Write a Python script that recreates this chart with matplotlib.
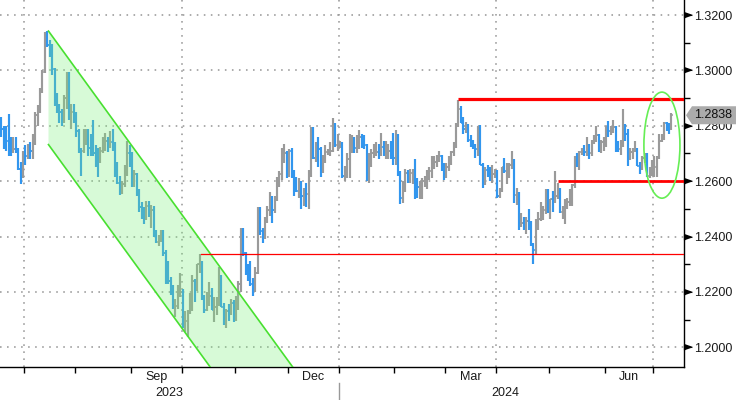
import numpy as np
import pandas as pd
import matplotlib
matplotlib.use("Agg")
import matplotlib.pyplot as plt
from matplotlib.patches import Polygon, Ellipse
import matplotlib.transforms as mtransforms

plt.rcParams['font.family'] = ['Liberation Sans', 'DejaVu Sans']

# ---------------- data: daily OHLC (Jun 19 2023 .. Jul 10 2024, business days) ----------------
opens = [
    1.2820,1.2790,1.2765,1.2745,1.2740,1.2710,1.2715,1.2710,1.2645,1.2615,  # Jun 23
    1.2700,1.2690,1.2715,1.2710,1.2750,1.2840,1.2860,1.2930,1.2995,1.3135,1.3090,1.3075,1.3005,1.2875,1.2860,1.2850,1.2820,1.2900,1.2940,1.2850,1.2850,  # Jul 23
    1.2835,1.2780,1.2715,1.2710,1.2750,1.2785,1.2720,1.2705,1.2700,1.2690,1.2685,1.2710,1.2730,1.2745,1.2735,1.2740,1.2725,1.2645,1.2595,1.2580,1.2590,1.2635,1.2700,  # Aug 23
    1.2670,1.2585,1.2625,1.2560,1.2505,1.2470,1.2465,1.2510,1.2490,1.2495,1.2415,1.2380,1.2385,1.2395,1.2340,1.2295,1.2240,1.2220,1.2150,1.2150,1.2195,  # Sep 23
    1.2200,1.2075,1.2095,1.2130,1.2190,1.2240,1.2235,1.2300,1.2305,1.2175,1.2135,1.2180,1.2185,1.2135,1.2145,1.2160,1.2245,1.2145,1.2105,1.2130,1.2125,1.2160,  # Oct 23
    1.2150,1.2165,1.2230,1.2380,1.2340,1.2275,1.2270,1.2230,1.2215,1.2270,1.2500,1.2420,1.2410,1.2460,1.2495,1.2540,1.2495,1.2540,1.2610,1.2625,1.2695,1.2700,  # Nov 23
    1.2625,1.2710,1.2635,1.2595,1.2565,1.2590,1.2545,1.2560,1.2555,1.2625,1.2770,1.2685,1.2725,1.2715,1.2635,1.2685,1.2705,1.2705,1.2710,1.2800,1.2730,  # Dec 23
    1.2730,1.2735,1.2620,1.2620,1.2680,1.2715,1.2745,1.2720,1.2745,1.2760,1.2755,1.2730,1.2630,1.2670,1.2700,1.2700,1.2705,1.2700,1.2725,1.2705,1.2705,1.2710,1.2695,  # Jan 24
    1.2685,1.2745,1.2630,1.2540,1.2570,1.2630,1.2625,1.2630,1.2630,1.2595,1.2580,1.2600,1.2600,1.2600,1.2630,1.2635,1.2650,1.2670,1.2685,1.2690,1.2655,  # Feb 24
    1.2625,1.2650,1.2685,1.2705,1.2725,1.2805,1.2860,1.2810,1.2790,1.2800,1.2750,1.2735,1.2725,1.2715,1.2780,1.2660,1.2595,1.2640,1.2635,1.2625,1.2625,  # Mar 24
    1.2635,1.2545,1.2570,1.2650,1.2635,1.2635,1.2660,1.2670,1.2550,1.2555,1.2450,1.2450,1.2430,1.2455,1.2440,1.2370,1.2350,1.2455,1.2465,1.2495,1.2495,1.2565,  # Apr 24
    1.2490,1.2535,1.2530,1.2545,1.2565,1.2490,1.2490,1.2520,1.2525,1.2560,1.2585,1.2680,1.2670,1.2705,1.2710,1.2705,1.2720,1.2700,1.2740,1.2760,1.2765,1.2710,1.2740,  # May 24
    1.2740,1.2800,1.2780,1.2790,1.2795,1.2725,1.2715,1.2735,1.2795,1.2770,1.2685,1.2705,1.2710,1.2715,1.2655,1.2650,1.2685,1.2690,1.2620,1.2630,  # Jun 24
    1.2645,1.2650,1.2685,1.2745,1.2760,1.2810,1.2805,1.2790,  # Jul 24
]
highs = [
    1.2830,1.2800,1.2800,1.2841,1.2760,1.2760,1.2760,1.2720,1.2670,1.2710,
    1.2730,1.2735,1.2740,1.2770,1.2850,1.2875,1.2935,1.3000,1.3140,1.3144,1.3110,1.3095,1.3010,1.2920,1.2880,1.2860,1.2910,1.2995,1.2995,1.2880,1.2880,
    1.2850,1.2790,1.2720,1.2790,1.2790,1.2790,1.2770,1.2820,1.2730,1.2720,1.2725,1.2760,1.2775,1.2760,1.2780,1.2790,1.2740,1.2670,1.2620,1.2600,1.2660,1.2745,1.2730,
    1.2705,1.2640,1.2630,1.2570,1.2525,1.2505,1.2530,1.2530,1.2515,1.2510,1.2425,1.2405,1.2425,1.2425,1.2350,1.2310,1.2255,1.2225,1.2175,1.2225,1.2270,
    1.2210,1.2130,1.2135,1.2195,1.2260,1.2245,1.2300,1.2337,1.2310,1.2190,1.2200,1.2235,1.2215,1.2180,1.2180,1.2290,1.2260,1.2160,1.2140,1.2155,1.2175,1.2170,
    1.2185,1.2240,1.2430,1.2430,1.2345,1.2300,1.2310,1.2250,1.2290,1.2505,1.2505,1.2430,1.2470,1.2510,1.2560,1.2545,1.2545,1.2615,1.2635,1.2720,1.2733,1.2710,
    1.2715,1.2720,1.2640,1.2615,1.2610,1.2600,1.2575,1.2595,1.2640,1.2795,1.2795,1.2740,1.2760,1.2725,1.2695,1.2730,1.2715,1.2740,1.2827,1.2810,1.2770,
    1.2745,1.2740,1.2655,1.2700,1.2770,1.2765,1.2760,1.2765,1.2785,1.2770,1.2765,1.2735,1.2700,1.2715,1.2735,1.2740,1.2735,1.2775,1.2745,1.2745,1.2735,1.2745,1.2775,
    1.2785,1.2770,1.2635,1.2600,1.2645,1.2640,1.2645,1.2645,1.2680,1.2610,1.2600,1.2610,1.2620,1.2640,1.2650,1.2690,1.2690,1.2695,1.2710,1.2695,1.2665,
    1.2665,1.2690,1.2710,1.2740,1.2810,1.2893,1.2870,1.2830,1.2815,1.2805,1.2765,1.2750,1.2735,1.2800,1.2803,1.2665,1.2650,1.2660,1.2650,1.2660,1.2645,
    1.2640,1.2575,1.2650,1.2685,1.2665,1.2665,1.2709,1.2680,1.2575,1.2560,1.2485,1.2470,1.2470,1.2500,1.2455,1.2375,1.2465,1.2490,1.2525,1.2510,1.2570,1.2570,
    1.2535,1.2565,1.2635,1.2595,1.2575,1.2510,1.2535,1.2540,1.2570,1.2590,1.2690,1.2700,1.2710,1.2720,1.2730,1.2760,1.2735,1.2750,1.2765,1.2800,1.2770,1.2750,1.2760,
    1.2800,1.2818,1.2800,1.2820,1.2800,1.2745,1.2750,1.2860,1.2805,1.2790,1.2720,1.2720,1.2745,1.2720,1.2670,1.2690,1.2700,1.2700,1.2650,1.2675,
    1.2690,1.2690,1.2770,1.2770,1.2815,1.2815,1.2810,1.2845,
]
lows = [
    1.2760,1.2715,1.2710,1.2690,1.2690,1.2700,1.2700,1.2640,1.2590,1.2610,
    1.2660,1.2680,1.2680,1.2680,1.2730,1.2800,1.2845,1.2920,1.2990,1.3085,1.3050,1.2985,1.2870,1.2845,1.2810,1.2800,1.2810,1.2860,1.2820,1.2790,1.2810,
    1.2760,1.2700,1.2620,1.2700,1.2730,1.2690,1.2690,1.2690,1.2650,1.2615,1.2665,1.2700,1.2710,1.2705,1.2720,1.2710,1.2615,1.2590,1.2550,1.2555,1.2580,1.2620,1.2650,
    1.2580,1.2580,1.2545,1.2490,1.2465,1.2445,1.2460,1.2470,1.2430,1.2400,1.2375,1.2365,1.2380,1.2330,1.2230,1.2230,1.2190,1.2140,1.2110,1.2140,1.2180,
    1.2070,1.2055,1.2037,1.2120,1.2130,1.2165,1.2205,1.2270,1.2170,1.2125,1.2130,1.2150,1.2135,1.2090,1.2115,1.2150,1.2145,1.2080,1.2070,1.2095,1.2115,1.2090,
    1.2095,1.2135,1.2200,1.2330,1.2260,1.2240,1.2220,1.2187,1.2200,1.2265,1.2405,1.2375,1.2390,1.2450,1.2475,1.2450,1.2485,1.2530,1.2580,1.2605,1.2665,1.2610,
    1.2615,1.2610,1.2545,1.2560,1.2540,1.2500,1.2510,1.2505,1.2500,1.2615,1.2680,1.2670,1.2650,1.2615,1.2630,1.2665,1.2695,1.2690,1.2705,1.2725,1.2710,
    1.2720,1.2610,1.2600,1.2610,1.2610,1.2700,1.2700,1.2700,1.2715,1.2720,1.2715,1.2600,1.2595,1.2650,1.2685,1.2690,1.2680,1.2690,1.2690,1.2680,1.2680,1.2680,1.2660,
    1.2660,1.2620,1.2518,1.2520,1.2560,1.2595,1.2595,1.2590,1.2535,1.2540,1.2535,1.2535,1.2580,1.2570,1.2605,1.2610,1.2645,1.2650,1.2670,1.2635,1.2605,
    1.2610,1.2635,1.2660,1.2690,1.2720,1.2795,1.2810,1.2770,1.2775,1.2740,1.2725,1.2715,1.2685,1.2690,1.2660,1.2575,1.2585,1.2615,1.2600,1.2595,1.2610,
    1.2540,1.2540,1.2560,1.2630,1.2590,1.2610,1.2645,1.2520,1.2515,1.2425,1.2435,1.2425,1.2410,1.2425,1.2365,1.2300,1.2335,1.2425,1.2455,1.2460,1.2480,1.2485,
    1.2465,1.2490,1.2520,1.2535,1.2485,1.2465,1.2445,1.2500,1.2510,1.2510,1.2575,1.2650,1.2640,1.2695,1.2690,1.2690,1.2680,1.2690,1.2735,1.2740,1.2705,1.2700,1.2710,
    1.2725,1.2760,1.2765,1.2775,1.2705,1.2705,1.2695,1.2725,1.2745,1.2655,1.2675,1.2680,1.2705,1.2655,1.2625,1.2640,1.2665,1.2615,1.2612,1.2620,
    1.2615,1.2615,1.2680,1.2740,1.2750,1.2780,1.2770,1.2785,
]
closes = [
    1.2790,1.2765,1.2745,1.2740,1.2710,1.2715,1.2710,1.2645,1.2615,1.2700,
    1.2690,1.2715,1.2710,1.2750,1.2840,1.2860,1.2930,1.2995,1.3135,1.3090,1.3075,1.3005,1.2875,1.2860,1.2850,1.2820,1.2900,1.2940,1.2850,1.2850,1.2835,
    1.2780,1.2715,1.2710,1.2750,1.2785,1.2720,1.2705,1.2700,1.2690,1.2685,1.2710,1.2730,1.2745,1.2735,1.2740,1.2725,1.2645,1.2595,1.2580,1.2590,1.2635,1.2700,1.2670,
    1.2585,1.2625,1.2560,1.2505,1.2470,1.2465,1.2510,1.2490,1.2495,1.2415,1.2380,1.2385,1.2395,1.2340,1.2295,1.2240,1.2220,1.2150,1.2150,1.2195,1.2200,
    1.2075,1.2095,1.2130,1.2190,1.2240,1.2235,1.2300,1.2305,1.2175,1.2135,1.2180,1.2185,1.2135,1.2145,1.2160,1.2245,1.2145,1.2105,1.2130,1.2125,1.2160,1.2150,
    1.2165,1.2230,1.2380,1.2340,1.2275,1.2270,1.2230,1.2215,1.2270,1.2500,1.2420,1.2410,1.2460,1.2495,1.2540,1.2495,1.2540,1.2610,1.2625,1.2695,1.2700,1.2625,
    1.2710,1.2635,1.2595,1.2565,1.2590,1.2545,1.2560,1.2555,1.2625,1.2770,1.2685,1.2725,1.2715,1.2635,1.2685,1.2705,1.2705,1.2710,1.2800,1.2730,1.2730,
    1.2735,1.2620,1.2620,1.2680,1.2715,1.2745,1.2720,1.2745,1.2760,1.2755,1.2730,1.2630,1.2670,1.2700,1.2700,1.2705,1.2700,1.2725,1.2705,1.2705,1.2710,1.2695,1.2685,
    1.2745,1.2630,1.2540,1.2570,1.2630,1.2625,1.2630,1.2630,1.2595,1.2580,1.2600,1.2600,1.2600,1.2630,1.2635,1.2650,1.2670,1.2685,1.2690,1.2655,1.2625,
    1.2650,1.2685,1.2705,1.2725,1.2805,1.2860,1.2810,1.2790,1.2800,1.2750,1.2735,1.2725,1.2715,1.2780,1.2660,1.2595,1.2640,1.2635,1.2625,1.2625,1.2635,
    1.2545,1.2570,1.2650,1.2635,1.2635,1.2660,1.2670,1.2550,1.2555,1.2450,1.2450,1.2430,1.2455,1.2440,1.2370,1.2350,1.2455,1.2465,1.2495,1.2495,1.2565,1.2490,
    1.2535,1.2530,1.2545,1.2565,1.2490,1.2490,1.2520,1.2525,1.2560,1.2585,1.2680,1.2670,1.2705,1.2710,1.2705,1.2720,1.2700,1.2740,1.2760,1.2765,1.2710,1.2740,1.2740,
    1.2800,1.2780,1.2790,1.2795,1.2725,1.2715,1.2735,1.2795,1.2770,1.2685,1.2705,1.2710,1.2715,1.2655,1.2650,1.2685,1.2690,1.2620,1.2630,1.2645,
    1.2650,1.2685,1.2745,1.2760,1.2810,1.2805,1.2790,1.2838,
]
first_day = "2023-06-19"

month_label_keys = [(2023, 9), (2023, 12), (2024, 3), (2024, 6)]
month_label_text = ["Sep", "Dec", "Mar", "Jun"]
year_labels = [2023, 2024]
y_major = [1.20, 1.22, 1.24, 1.26, 1.28, 1.30, 1.32]
y_minor = [1.21, 1.23, 1.25, 1.27, 1.29, 1.31]

# annotation levels (drawn overlays)
resistance_high = 1.2895
support_mid = 1.2600
old_high = 1.2336
channel_top = (1.3142, 1.1694)
channel_bot = (1.2732, 1.1284)

# ---------------- figure ----------------
n = len(closes)
dates = pd.bdate_range(first_day, periods=n)
idx = np.arange(n)
o = np.array(opens); h = np.array(highs); l = np.array(lows); c = np.array(closes)

W, H = 736, 400
fig = plt.figure(figsize=(W / 100, H / 100), dpi=100)
ax = fig.add_axes([0, 1 - 367 / H, 684.3 / W, 367 / H])
ax.set_xlim(-0.54, 282.35)
ax.set_ylim(1.19288, 1.32542)

BLUE = '#3296ee'
GRAY = '#9a9a9a'
cols = [GRAY if cc >= oo else BLUE for oo, cc in zip(o, c)]

ax.vlines(idx, l, h, colors=cols, lw=1.55, zorder=3)
ax.hlines(o, idx - 0.55, idx, colors=cols, lw=1.1, zorder=3)
ax.hlines(c, idx, idx + 0.55, colors=cols, lw=1.1, zorder=3)

# gridlines
grid_kw = dict(color='#999999', lw=1.15, ls=(0, (1, 3.4)), zorder=1)
for yv in y_major:
    ax.axhline(yv, **grid_kw)
month_key = dates.year * 12 + dates.month
starts = np.flatnonzero(np.diff(month_key)) + 1
for s in starts:
    if dates[s].month in (1, 4, 7, 10):
        ax.axvline(s - 0.5, **grid_kw)

# channel
x0, x1 = 19.5, 140.0
chan = Polygon([(x0, channel_top[0]), (x1, channel_top[1]), (x1, channel_bot[1]), (x0, channel_bot[0])],
               closed=True, facecolor='#7cf07c', alpha=0.3, edgecolor='none', zorder=4)
ax.add_patch(chan)
ax.plot([x0, x1], list(channel_top), color='#48e030', lw=1.2, zorder=5)
ax.plot([x0, x1], list(channel_bot), color='#48e030', lw=1.2, zorder=5)

# red levels
xr = ax.get_xlim()[1]
ax.plot([189, xr], [resistance_high] * 2, color='#ff0000', lw=2.3, zorder=6, solid_capstyle='butt')
ax.plot([230, xr], [support_mid] * 2, color='#ff0000', lw=2.0, zorder=6, solid_capstyle='butt')
ax.plot([82.5, xr], [old_high] * 2, color='#ff0000', lw=0.9, zorder=6)

# ellipse
ax.add_patch(Ellipse((273.1, 1.2730), 14.9, 0.0383, fill=False, edgecolor='#66ee55', lw=1.2, zorder=6))

# spines
for sp in ('top', 'left'):
    ax.spines[sp].set_visible(False)
for sp in ('right', 'bottom'):
    ax.spines[sp].set_color('black')
    ax.spines[sp].set_linewidth(1.0)

# y axis
ax.yaxis.tick_right()
ax.set_yticks(y_major)
ax.set_yticklabels([f"{v:.4f}" for v in y_major])
ax.set_yticks(y_minor, minor=True)
ax.tick_params(axis='y', which='major', length=0, pad=7, labelsize=9, labelcolor='#1a1a1a')
ax.tick_params(axis='y', which='minor', length=4, width=1, color='black', direction='out')
blend_y = mtransforms.blended_transform_factory(ax.transAxes, ax.transData)
ax.plot([1.0057] * len(y_major), y_major, transform=blend_y, ls='none',
        marker=[(-1, -0.7), (-1, 0.7), (1, 0)], ms=5.6, color='black', clip_on=False, zorder=7)

# x axis
ax.set_xticks(starts - 0.5)
ax.set_xticklabels([])
ax.tick_params(axis='x', which='major', length=4, width=1, color='black', direction='out')
lab_pos = []
for (yy, mm) in month_label_keys:
    sel = idx[(dates.year == yy) & (dates.month == mm)]
    lab_pos.append(sel.mean())
ax.set_xticks(lab_pos, minor=True)
ax.set_xticklabels(month_label_text, minor=True)
ax.tick_params(axis='x', which='minor', length=0, pad=3, labelsize=9, labelcolor='#1a1a1a')

blend_x = mtransforms.blended_transform_factory(ax.transData, ax.transAxes)
for yy in year_labels:
    ax.text(idx[dates.year == yy].mean(), -0.071, str(yy), transform=blend_x,
            ha='center', va='center', fontsize=9, color='#1a1a1a')
jan = [s for s in starts if dates[s].month == 1][0] - 0.5
ax.plot([jan, jan], [-0.0436, -0.095], transform=blend_x, color='#999999', lw=1.0, clip_on=False)

# last price box
yd = ax.transData.transform((0, c[-1]))[1]
verts = np.array([(686, yd), (692, yd + 9), (736, yd + 9), (736, yd - 9), (692, yd - 9)])
verts = verts / np.array([W, H])
fig.patches.append(Polygon(verts, closed=True, transform=fig.transFigure,
                           facecolor='#ababab', edgecolor='none', zorder=10))
fig.text(713.5 / W, yd / H, f"{c[-1]:.4f}", ha='center', va='center', fontsize=9,
         color='#111111', zorder=11)

fig.savefig("out.png", dpi=100)
